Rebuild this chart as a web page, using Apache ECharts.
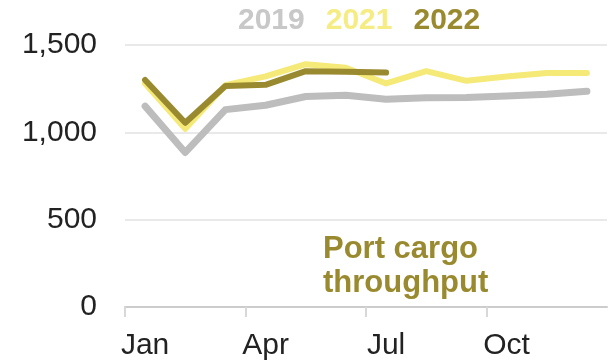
<!DOCTYPE html>
<html>
<head>
<meta charset="utf-8">
<script src="https://cdn.jsdelivr.net/npm/echarts@6/dist/echarts.min.js"></script>
<style>html,body{margin:0;padding:0;background:#fff}#c{width:613px;height:362px}</style>
</head>
<body>
<div id="c"></div>
<script>
const months = ['Jan','Feb','Mar','Apr','May','Jun','Jul','Aug','Sep','Oct','Nov','Dec'];
const yTicks = [0, 500, 1000, 1500];
const s2019 = [1150, 885, 1130, 1155, 1205, 1212, 1190, 1198, 1200, 1208, 1218, 1235];
const s2021 = [1280, 1020, 1270, 1320, 1390, 1370, 1280, 1350, 1295, 1320, 1340, 1340];
const s2022 = [1300, 1055, 1265, 1272, 1350, 1347, 1342];
const quarterStarts = [-0.5, 2.5, 5.5, 8.5];
const annotation = 'Port cargo\nthroughput';

const FONT = 'Liberation Sans';
const C19 = '#bdbdbd', C19T = '#c8c8c8';
const C21 = '#f5e978', C21T = '#f5ec84';
const C22 = '#9a8a2f';

const chart = echarts.init(document.getElementById('c'), null, {renderer: 'canvas'});
chart.setOption({
  animation: false,
  backgroundColor: '#ffffff',
  textStyle: {fontFamily: FONT},
  grid: {left: 125, right: 6, top: 45, bottom: 55},
  legend: {
    left: 228, top: 1, icon: 'none', itemWidth: 0, itemHeight: 0, itemGap: 16,
    selectedMode: false,
    textStyle: {fontSize: 30, fontWeight: 'bold', fontFamily: FONT},
    data: [
      {name: '2019', textStyle: {color: C19T}},
      {name: '2021', textStyle: {color: C21T}},
      {name: '2022', textStyle: {color: C22}}
    ]
  },
  xAxis: [{
    type: 'category', data: months, boundaryGap: true, position: 'bottom',
    axisLine: {lineStyle: {color: '#cccccc', width: 2}},
    axisTick: {show: false},
    axisLabel: {interval: 2, fontSize: 30, color: '#222222', margin: 24, fontFamily: FONT}
  }, {
    type: 'value', min: -0.5, max: 11.5, position: 'bottom',
    axisLine: {show: false}, splitLine: {show: false}, axisLabel: {show: false},
    axisTick: {show: true, length: 10, customValues: quarterStarts,
      lineStyle: {color: '#d8d8d8', width: 2}}
  }],
  yAxis: {
    type: 'value', min: yTicks[0], max: yTicks[yTicks.length - 1], interval: 500,
    axisLine: {show: false}, axisTick: {show: false},
    splitLine: {lineStyle: {color: '#e2e2e2', width: 1.5}},
    axisLabel: {fontSize: 30, color: '#222222', margin: 28, fontFamily: FONT,
      formatter: v => v.toLocaleString('en-US')}
  },
  series: [
    {name: '2019', type: 'line', data: s2019, symbol: 'none', z: 2, xAxisIndex: 0,
     itemStyle: {color: C19}, lineStyle: {color: C19, width: 7, cap: 'round', join: 'round'}},
    {name: '2021', type: 'line', data: s2021, symbol: 'none', z: 3, xAxisIndex: 0,
     itemStyle: {color: C21}, lineStyle: {color: C21, width: 6, cap: 'round', join: 'round'}},
    {name: '2022', type: 'line', data: s2022, symbol: 'none', z: 4, xAxisIndex: 0,
     itemStyle: {color: C22}, lineStyle: {color: C22, width: 6, cap: 'round', join: 'round'}}
  ],
  graphic: [{
    type: 'text', left: 323, top: 232, z: 10,
    style: {text: annotation, fill: C22, font: 'bold 31px "' + FONT + '"', lineHeight: 34}
  }]
});
</script>
</body>
</html>
